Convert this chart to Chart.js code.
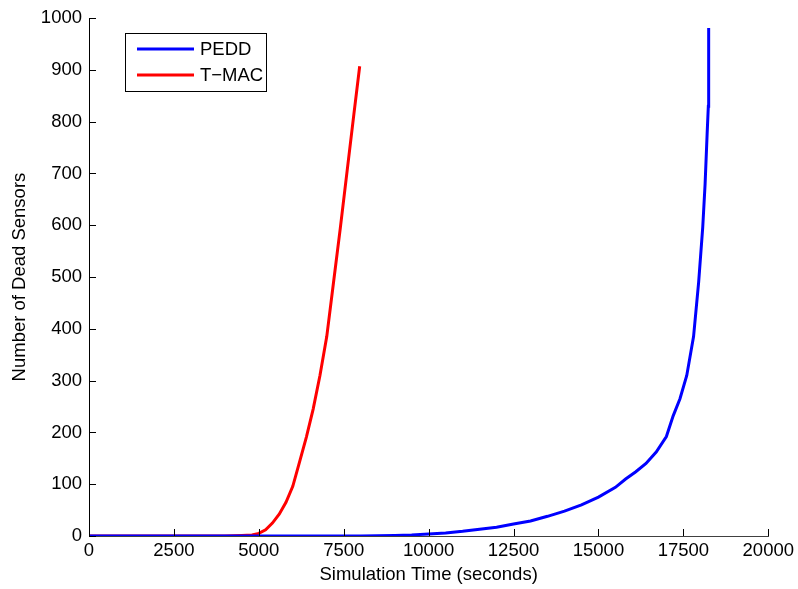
<!DOCTYPE html>
<html>
<head>
<meta charset="utf-8">
<script src="https://cdn.jsdelivr.net/npm/chart.js@4/dist/chart.umd.min.js"></script>
<style>
  html, body { margin: 0; padding: 0; background: #fff; }
  #wrap { width: 798px; height: 589px; }
</style>
</head>
<body>
<div id="wrap"><canvas id="dead-chart"></canvas></div>
<script>
// Simulation time (s) and dead sensor counts
const peddTime = [0, 5000, 8000, 9000, 9500, 10000, 10500, 11000, 11500, 12000, 12500, 13000, 13500, 14000, 14500, 15000, 15500, 15800, 16100, 16400, 16700, 17000, 17200, 17400, 17600, 17800, 17950, 18070, 18140, 18200, 18235, 18245];
const peddDead = [0, 0, 0, 1, 2, 4, 6, 9, 13, 17, 23, 29, 38, 48, 60, 75, 94, 110, 124, 140, 162, 192, 232, 265, 310, 385, 490, 596, 680, 777, 830, 981];

const tmacTime = [0, 2500, 4000, 4500, 4800, 5000, 5200, 5400, 5600, 5800, 6000, 6200, 6400, 6600, 6800, 7000, 7200, 7400, 7600, 7800, 7970];
const tmacDead = [0, 0, 0, 1, 2, 5, 12, 25, 42, 65, 96, 143, 191, 245, 310, 385, 490, 595, 705, 815, 907];

const xTicks = [0, 2500, 5000, 7500, 10000, 12500, 15000, 17500, 20000];
const yTicks = [0, 100, 200, 300, 400, 500, 600, 700, 800, 900, 1000];

const FONT = '"Liberation Sans", Arial, Helvetica, sans-serif';
const FONT_SIZE = 18.5;

function toPoints(xs, ys) {
    return xs.map((x, i) => ({ x: x, y: ys[i] }));
}

// MATLAB style inward tick marks
const innerTicks = {
    id: 'innerTicks',
    afterDatasetsDraw(chart) {
        const ctx = chart.ctx;
        const xs = chart.scales.x, ys = chart.scales.y;
        const area = chart.chartArea;
        ctx.save();
        ctx.strokeStyle = '#000';
        ctx.lineWidth = 1;
        ctx.beginPath();
        xTicks.forEach(v => {
            const px = Math.round(xs.getPixelForValue(v)) + 0.5;
            ctx.moveTo(px, area.bottom);
            ctx.lineTo(px, area.bottom - 7);
        });
        yTicks.forEach(v => {
            const py = Math.round(ys.getPixelForValue(v)) + 0.5;
            ctx.moveTo(area.left, py);
            ctx.lineTo(area.left + 7, py);
        });
        ctx.stroke();
        ctx.restore();
    }
};

// Boxed legend in the upper left corner
const boxLegend = {
    id: 'boxLegend',
    afterDraw(chart) {
        const ctx = chart.ctx;
        const left = 125, top = 33, w = 141, h = 58;
        ctx.save();
        ctx.fillStyle = '#fff';
        ctx.fillRect(left, top, w, h);
        ctx.strokeStyle = '#000';
        ctx.lineWidth = 1;
        ctx.strokeRect(left + 0.5, top + 0.5, w, h);
        ctx.font = FONT_SIZE + 'px ' + FONT;
        ctx.textBaseline = 'middle';
        chart.data.datasets.forEach((ds, i) => {
            const y = 49 + i * 26;
            ctx.strokeStyle = ds.borderColor;
            ctx.lineWidth = 3;
            ctx.beginPath();
            ctx.moveTo(137, y);
            ctx.lineTo(194, y);
            ctx.stroke();
            ctx.fillStyle = '#000';
            ctx.fillText(ds.label, 200, y + 1);
        });
        ctx.restore();
    }
};

const ctx = document.getElementById('dead-chart').getContext('2d');
new Chart(ctx, {
    type: 'line',
    data: {
        datasets: [{
            label: 'PEDD',
            data: toPoints(peddTime, peddDead),
            borderColor: '#0000ff',
            borderWidth: 3,
            pointRadius: 0,
            tension: 0,
            fill: false
        }, {
            label: 'T\u2212MAC',
            data: toPoints(tmacTime, tmacDead),
            borderColor: '#ff0000',
            borderWidth: 3,
            pointRadius: 0,
            tension: 0,
            fill: false
        }]
    },
    options: {
        responsive: true,
        maintainAspectRatio: false,
        animation: false,
        layout: { padding: { top: 17, right: 29, left: 0, bottom: 0 } },
        plugins: {
            legend: { display: false },
            tooltip: { enabled: false }
        },
        scales: {
            x: {
                type: 'linear',
                min: 0,
                max: 20000,
                afterBuildTicks: s => { s.ticks = xTicks.map(v => ({ value: v })); },
                afterFit: s => { s.height = 53; },
                grid: { display: false, drawTicks: false },
                border: { display: true, color: '#404040', width: 1 },
                ticks: {
                    color: '#000',
                    padding: 4,
                    maxRotation: 0,
                    font: { family: FONT, size: FONT_SIZE },
                    callback: v => String(v)
                },
                title: {
                    display: true,
                    text: 'Simulation Time (seconds)',
                    color: '#000',
                    font: { family: FONT, size: FONT_SIZE },
                    padding: { top: 0, bottom: 3 }
                }
            },
            y: {
                min: 0,
                max: 1000,
                afterBuildTicks: s => { s.ticks = yTicks.map(v => ({ value: v })); },
                afterFit: s => { s.width = 89; },
                grid: { display: false, drawTicks: false },
                border: { display: true, color: '#000', width: 1 },
                ticks: {
                    color: '#000',
                    padding: 7,
                    font: { family: FONT, size: FONT_SIZE },
                    callback: v => String(v)
                },
                title: {
                    display: true,
                    text: 'Number of Dead Sensors',
                    color: '#000',
                    font: { family: FONT, size: FONT_SIZE },
                    padding: { top: 9, bottom: 0 }
                }
            }
        }
    },
    plugins: [innerTicks, boxLegend]
});
</script>
</body>
</html>
